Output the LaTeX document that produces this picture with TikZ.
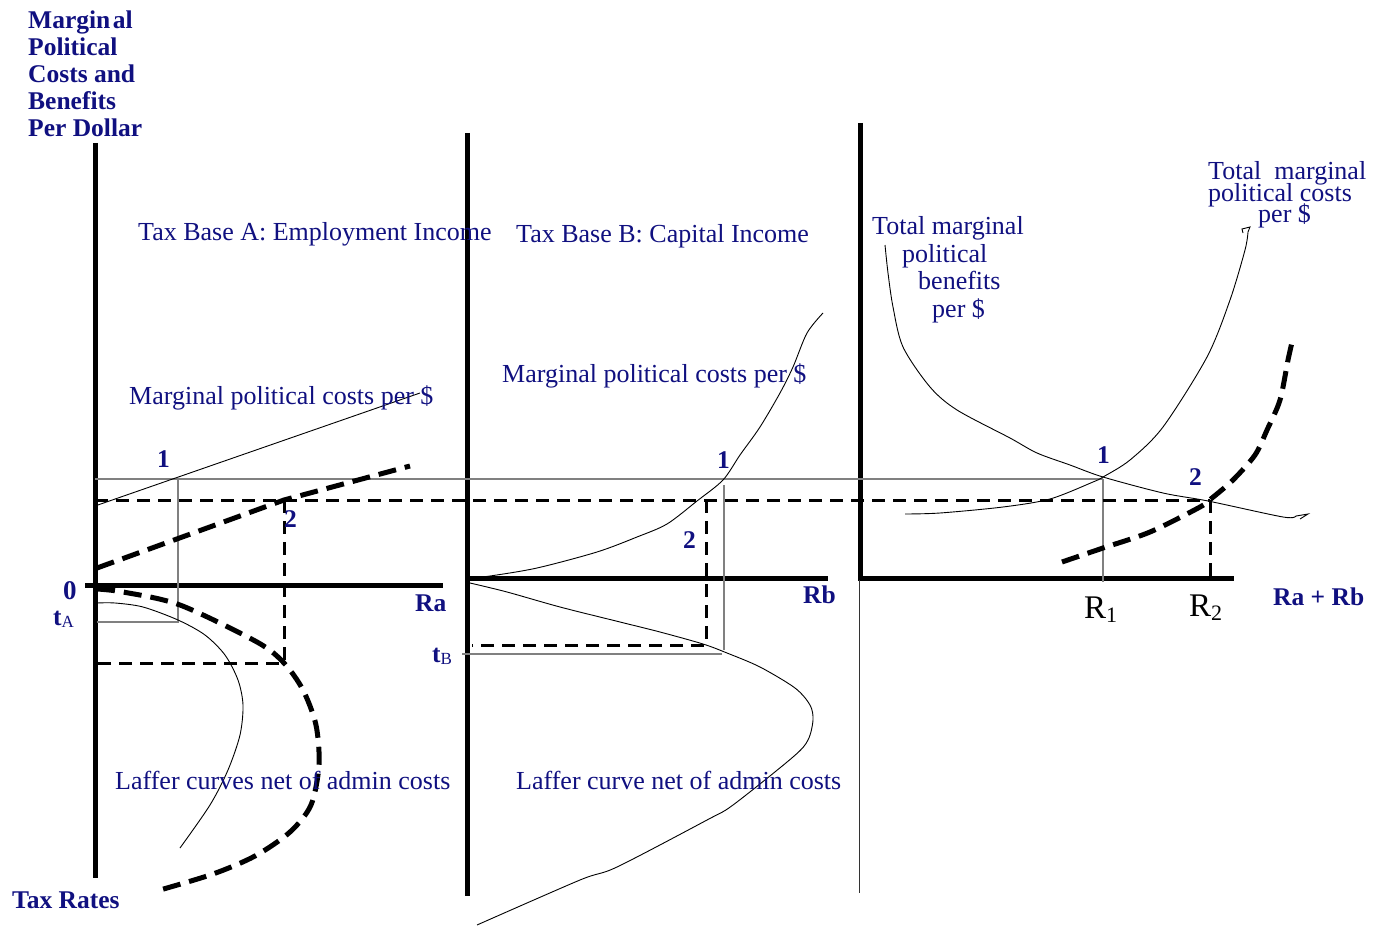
\documentclass[tikz,border=0pt]{standalone}
\usepackage{fontspec}
\setmainfont{Liberation Serif}
\definecolor{navy}{RGB}{16,16,128}
\begin{document}
\begin{tikzpicture}[x=1pt,y=-1pt,
  axis/.style={line width=5pt},
  thincurve/.style={line width=0.9pt},
  guide/.style={gray, line width=1.4pt},
  dashrect/.style={line width=3pt, dash pattern=on 13pt off 8pt},
  dashcurve/.style={line width=5pt, dash pattern=on 18pt off 9pt},
  lbl/.style={text=navy, font=\fontsize{26}{27}\selectfont, inner sep=0pt, anchor=base west},
  blbl/.style={lbl, font=\bfseries\fontsize{25.5}{27}\selectfont},
  rlbl/.style={text=black, font=\fontsize{33}{35}\selectfont, inner sep=0pt, anchor=base west}
]
\useasboundingbox (0,0) rectangle (1374,928);
\fill[white] (0,0) rectangle (1374,928);

% axes
\coordinate (A0) at (95,585);
\coordinate (B0) at (467,578);
\coordinate (C0) at (860,578);
\draw[axis] (95,143) -- (95,878);
\draw[axis] (85,585) -- (443,585);
\draw[axis] (467,133) -- (467,896);
\draw[axis] (467,578) -- (828,578);
\draw[axis] (860,123) -- (860,580);
\draw[axis] (858,578) -- (1234,578);
\draw[line width=1pt, black!80] (859,580) -- (859,893);

% guide lines (gray)
\coordinate (P1A) at (178,479);
\coordinate (P1B) at (724,479);
\coordinate (P1C) at (1103,479);
\draw[guide] (95,479) -- (P1C);
\draw[guide] (P1A) -- (178,622) -- (97,622);
\draw[guide] (724,485) -- (724,650);
\draw[guide] (462,654) -- (722,654);
\draw[guide] (P1C) -- (1103,582);

% dashed rectangles
\coordinate (P2A) at (284,500);
\coordinate (P2B) at (706,500);
\coordinate (P2C) at (1210,500);
\draw[dashrect] (95,500) -- (P2C);
\draw[dashrect] (P2A) -- (284,663) -- (95,663);
\draw[dashrect] (P2B) -- (706,645) -- (472,645);
\draw[dashrect] (P2C) -- (1210,578);

% Panel A curves
\draw[thincurve] (95,506) -- (420,393);
\draw[dashcurve] (97,568) -- (284,500) -- (410,466);
\draw[thincurve] plot[smooth] coordinates {(97,603) (115,603) (143,607) (178,620) (205,635) (225,655) (238,680) (243,705) (240,735) (228,770) (210,805) (180,848)};
\draw[dashcurve] plot[smooth] coordinates {(97,589) (123,592) (180,605) (257,642) (284,663) (303,690) (316,725) (319,765) (311,805) (290,832) (255,856) (213,874) (160,890)};

% Panel B curves
\draw[thincurve] plot[smooth] coordinates {(470,578) (490,576) (537,568) (597,552) (637,537) (667,524) (697,501) (723,480) (740,455) (760,427) (780,393) (793,367) (807,333) (823,313)};
\draw[thincurve] plot[smooth] coordinates {(470,583) (507,592) (560,607) (620,622) (660,632) (703,644) (727,653) (760,667) (795,688) (810,705) (813,720) (808,740) (793,757) (733,805) (707,820) (617,867) (580,880) (477,925)};

% Panel C curves
\draw[thincurve] plot[smooth] coordinates {(885,245) (888,273) (893,307) (903,347) (930,387) (957,410) (1010,438) (1037,453) (1070,465) (1103,477) (1163,493) (1208,501) (1283,517) (1296,516)} -- (1308,514) -- (1300,519);
\draw[thincurve] plot[smooth] coordinates {(905,514) (940,513) (1003,507) (1050,499) (1093,482) (1103,477) (1130,460) (1163,427) (1207,357) (1230,300) (1245,250) (1248,232)} -- (1250,227) -- (1242,229) -- (1243,233);
\draw[dashcurve] plot[smooth] coordinates {(1062,562) (1103,548) (1150,532) (1200,507) (1212,498) (1233,480) (1255,455) (1267,430) (1280,400) (1288,360) (1293,338)};

% Title
\node[blbl] (t1) at (28,29) {Margin\kern2.5pt al};
\node[blbl] (t2) at (28,56) {Political};
\node[blbl] (t3) at (28,83) {Costs and};
\node[blbl] (t4) at (28,110) {Benefits};
\node[blbl] (t5) at (28,137) {Per Dollar};
\node[blbl] (taxrates) at (12,908) {Tax Rates};

% Panel A labels
\node[lbl] (baseA) at (138,241) {Tax Base A: Employment Income};
\node[lbl] (mpcA) at (129,404) {Marginal political costs per \$};
\node[lbl] (lafA) at (115,789) {Laffer curves net of admin costs};
\node[blbl] (oneA) at (157,467) {1};
\node[blbl] (twoA) at (284,527) {2};
\node[blbl, font=\bfseries\fontsize{27}{27}\selectfont] (zero) at (63,599) {0};
\node[blbl] (tA) at (53,625) {t\raisebox{-0.25ex}{\mdseries\fontsize{17}{17}\selectfont A}};
\node[blbl] (Ra) at (415,611) {Ra};

% Panel B labels
\node[lbl] (baseB) at (516,243) {Tax Base B: Capital Income};
\node[lbl] (mpcB) at (502,382) {Marginal political costs per \$};
\node[lbl] (lafB) at (516,789) {Laffer curve net of admin costs};
\node[blbl] (oneB) at (717,468) {1};
\node[blbl] (twoB) at (683,548) {2};
\node[blbl] (tB) at (432,662) {t\raisebox{-0.25ex}{\mdseries\fontsize{17}{17}\selectfont B}};
\node[blbl] (Rb) at (803,603) {Rb};

% Panel C labels
\node[lbl] (tb1) at (872,235) {Total marginal};
\node[lbl] (tb2) at (902,262) {political};
\node[lbl] (tb3) at (918,290) {benefits};
\node[lbl] (tb4) at (932,317) {per \$};
\node[lbl] (tc1) at (1208,180) {Total\ \ marginal};
\node[lbl] (tc2) at (1208,202) {political costs};
\node[lbl] (tc3) at (1258,223) {per \$};
\node[blbl] (oneC) at (1097,463) {1};
\node[blbl] (twoC) at (1189,485) {2};
\node[rlbl] (R1) at (1084,618) {R\raisebox{-0.3ex}{\fontsize{22}{22}\selectfont 1}};
\node[rlbl] (R2) at (1189,616) {R\raisebox{-0.3ex}{\fontsize{22}{22}\selectfont 2}};
\node[blbl] (RaRb) at (1273,605) {Ra + Rb};
\end{tikzpicture}
\end{document}
